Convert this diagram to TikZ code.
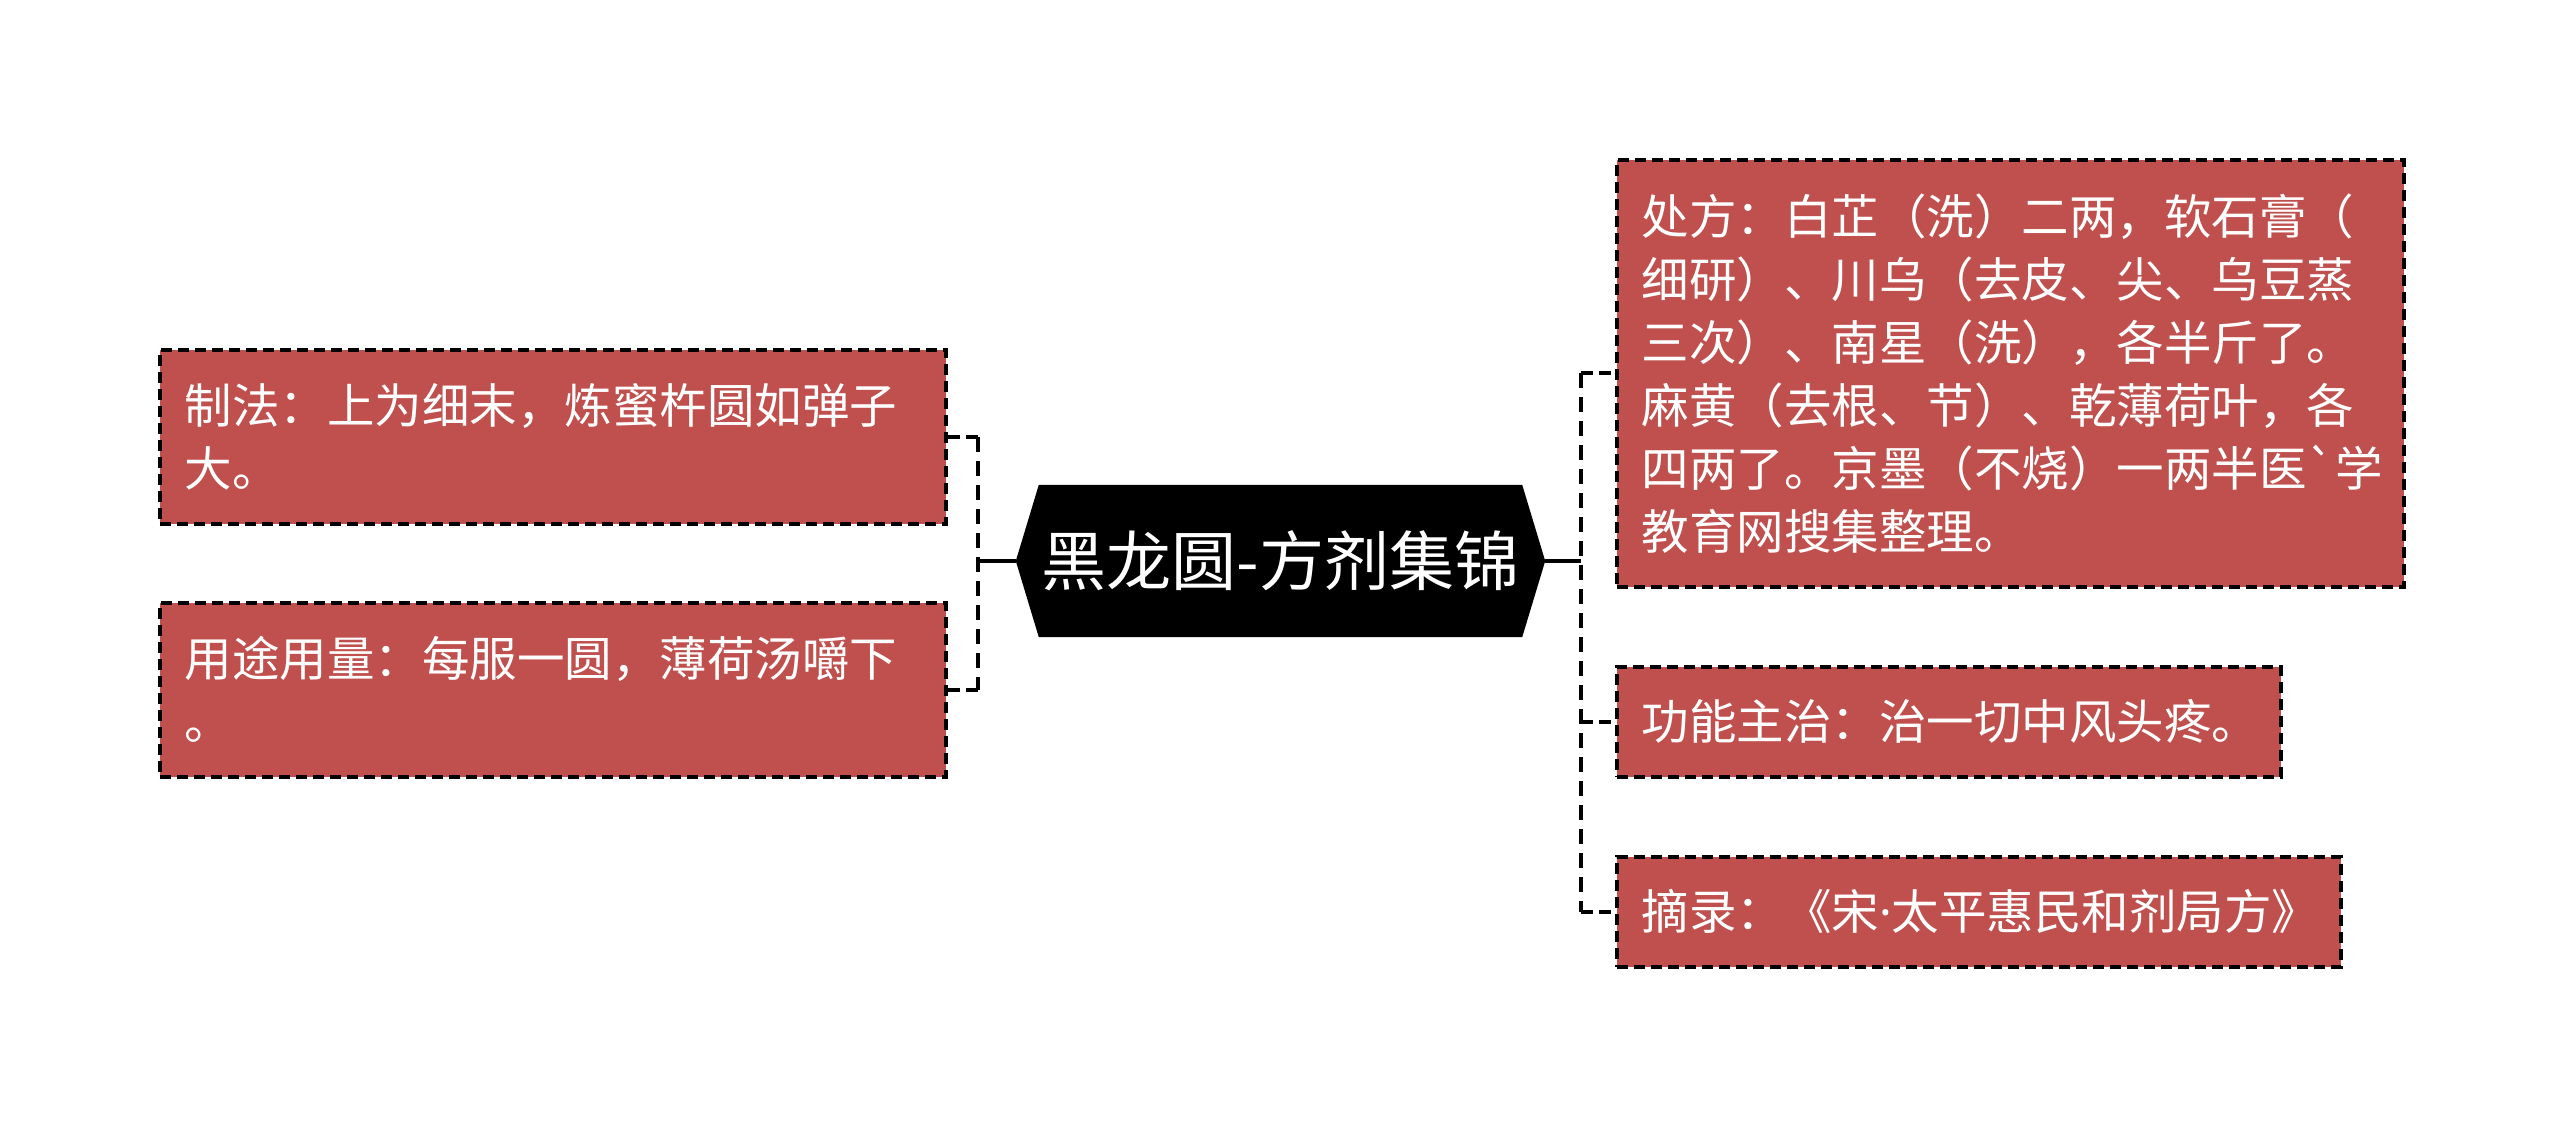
\documentclass[tikz,border=0pt]{standalone}
\usepackage{fontspec}
\newfontfamily\cjk{Noto Sans CJK SC}[Ligatures=TeXOff]
\newfontfamily\latinf{Noto Sans}
\usetikzlibrary{backgrounds}
\definecolor{boxred}{HTML}{C0504D}
\tikzset{
  leaf/.style={draw=black, fill=boxred, dash pattern=on 11pt off 6pt, line width=3.5pt,
    text=white, font=\cjk\fontsize{47.5}{63}\selectfont, align=left,
    inner xsep=25pt, inner ysep=0pt, anchor=north west},
  bracketline/.style={line width=4pt, dash pattern=on 15pt off 9pt},
  stubline/.style={line width=4pt, dash pattern=on 12pt off 6pt},
  trunkline/.style={line width=4pt},
}
\begin{document}
\begin{tikzpicture}[x=1pt,y=-1pt]
\useasboundingbox (0,0) rectangle (2560,1124);

% root
\node[minimum width=529pt, minimum height=152pt, inner sep=0pt, text=white,
      font=\cjk\fontsize{65}{65}\selectfont] (root) at (1280.5,561) {黑龙圆-方剂集锦};
\begin{scope}[on background layer]
\fill[white] (0,0) rectangle (2560,1124);
\fill[black] (root.west) -- ([xshift=23pt]root.north west) -- ([xshift=-23pt]root.north east)
  -- (root.east) -- ([xshift=-23pt]root.south east) -- ([xshift=23pt]root.south west) -- cycle;
\end{scope}

% left leaves
\node[leaf, minimum width=786pt, minimum height=174pt, text width=736pt] (l1) at (158,348)
  {制法：上为细末，炼蜜杵圆如弹子\\大。};
\node[leaf, minimum width=786pt, minimum height=174pt, text width=736pt] (l2) at (158,601)
  {用途用量：每服一圆，薄荷汤嚼下\\。};

% right leaves
\node[leaf, minimum width=787pt, minimum height=427pt, text width=737pt] (r1) at (1615,158)
  {处方：白芷（洗）二两，软石膏（\\细研）、川乌（去皮、尖、乌豆蒸\\三次）、南星（洗），各半斤了。\\麻黄（去根、节）、乾薄荷叶，各\\四两了。京墨（不烧）一两半医`学\\教育网搜集整理。};
\node[leaf, minimum width=664pt, minimum height=110pt, text width=614pt] (r2) at (1615,665)
  {功能主治：治一切中风头疼。};
\node[leaf, minimum width=724pt, minimum height=110pt, text width=674pt] (r3) at (1615,855)
  {摘录：《宋{\latinf ·}太平惠民和剂局方》};

% junctions
\coordinate (lj) at (978,561);
\coordinate (rj) at (1581,561);

% connectors
\draw[trunkline] (root.west) -- (lj);
\draw[trunkline] (root.east) -- (rj);
\draw[bracketline] (lj |- l1.east) -- (lj |- l2.east);
\draw[stubline] (lj |- l1.east) -- (l1.east);
\draw[stubline] (lj |- l2.east) -- (l2.east);
\draw[bracketline] (rj |- r1.west) -- (rj |- r3.west);
\draw[stubline] (rj |- r1.west) -- (r1.west);
\draw[stubline] (rj |- r2.west) -- (r2.west);
\draw[stubline] (rj |- r3.west) -- (r3.west);
\end{tikzpicture}
\end{document}
